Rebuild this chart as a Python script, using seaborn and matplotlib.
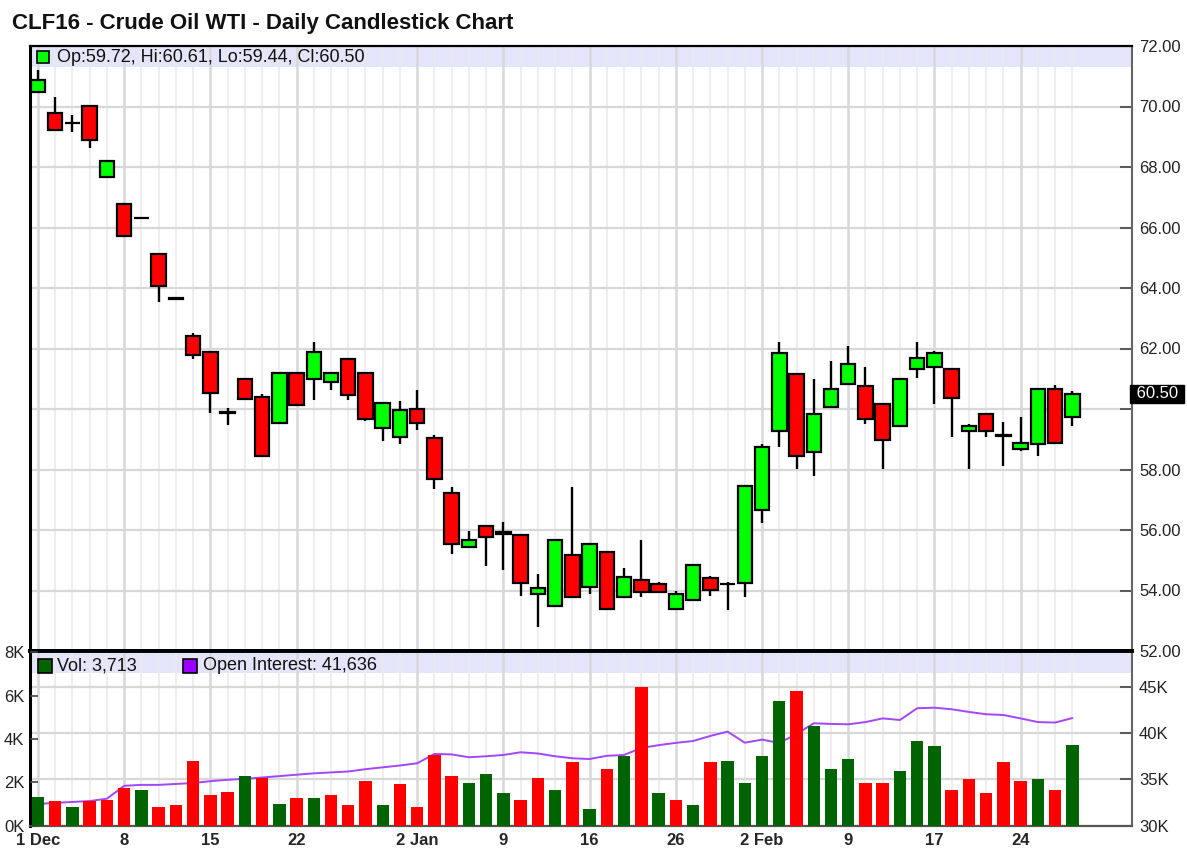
import numpy as np
import pandas as pd
import seaborn as sns
import matplotlib.pyplot as plt

# trading days (NYMEX holidays removed)
days = pd.bdate_range('2014-12-01', '2015-02-27', freq='C',
                      holidays=['2014-12-25', '2015-01-01', '2015-01-19', '2015-02-16'])
label_days = ['2014-12-01', '2014-12-08', '2014-12-15', '2014-12-22', '2015-01-02', '2015-01-09',
              '2015-01-16', '2015-01-26', '2015-02-02', '2015-02-09', '2015-02-17', '2015-02-24']
label_text = ['1 Dec', '8', '15', '22', '2 Jan', '9', '16', '26', '2 Feb', '9', '17', '24']

opens = [70.48, 69.78, 69.45, 70.00, 67.67, 66.77, 66.30, 65.13, 63.68, 62.42,
         61.90, 59.90, 60.98, 60.40, 59.53, 61.20, 60.98, 60.90, 61.65, 61.20,
         59.38, 59.09, 60.00, 59.05, 57.22, 55.45, 56.13, 55.92, 55.84, 53.90,
         53.50, 55.18, 54.13, 55.27, 53.79, 54.36, 54.20, 53.38, 53.70, 54.40,
         54.20, 54.24, 56.66, 59.28, 61.16, 58.59, 60.06, 60.81, 60.76, 60.18,
         59.44, 61.32, 61.39, 61.33, 59.28, 59.85, 59.14, 58.69, 58.83, 60.66,
         59.72]
highs = [71.20, 70.33, 69.73, 70.02, 68.20, 66.80, 66.32, 65.15, 63.70, 62.51,
         61.92, 60.02, 61.00, 60.51, 61.20, 61.20, 62.21, 61.20, 61.67, 61.20,
         60.20, 60.26, 60.64, 59.14, 57.42, 55.97, 56.15, 56.26, 55.85, 54.54,
         55.66, 57.42, 55.55, 55.27, 54.76, 55.66, 54.27, 53.97, 54.83, 54.48,
         54.27, 57.44, 58.84, 62.21, 61.16, 61.00, 61.58, 62.09, 61.40, 60.18,
         60.99, 62.21, 61.91, 61.33, 59.52, 59.85, 59.57, 59.74, 60.66, 60.78,
         60.61]
lows = [70.48, 69.20, 69.17, 68.62, 67.67, 65.70, 66.28, 63.55, 63.60, 61.65,
        59.88, 59.47, 60.30, 58.45, 59.53, 60.14, 60.30, 60.63, 60.30, 59.60,
        58.93, 58.83, 59.30, 57.37, 55.21, 55.45, 54.81, 54.68, 53.83, 52.78,
        53.50, 53.79, 53.89, 53.38, 53.79, 53.77, 53.96, 53.38, 53.70, 53.83,
        53.35, 53.77, 56.23, 58.74, 58.01, 57.77, 60.06, 60.81, 59.49, 58.03,
        59.44, 61.02, 60.16, 59.07, 58.03, 59.07, 58.10, 58.62, 58.43, 58.86,
        59.44]
closes = [70.86, 69.21, 69.45, 68.90, 68.20, 65.73, 66.30, 64.08, 63.62, 61.78,
          60.53, 59.86, 60.33, 58.45, 61.20, 60.14, 61.88, 61.20, 60.47, 59.67,
          60.19, 59.97, 59.53, 57.68, 55.55, 55.68, 55.78, 55.86, 54.24, 54.07,
          55.66, 53.79, 55.55, 53.38, 54.46, 53.96, 53.96, 53.90, 54.83, 54.02,
          54.20, 57.44, 58.76, 61.85, 58.46, 59.84, 60.66, 61.50, 59.67, 58.99,
          60.99, 61.67, 61.85, 60.35, 59.44, 59.28, 59.10, 58.87, 60.66, 58.86,
          60.50]

# volume in thousands, up/down vs previous close
volume = [1.33, 1.15, 0.84, 1.12, 1.17, 1.72, 1.63, 0.84, 0.93, 3.00,
          1.40, 1.57, 2.29, 2.20, 1.01, 1.26, 1.26, 1.40, 0.93, 2.05,
          0.93, 1.91, 0.84, 3.25, 2.29, 1.97, 2.38, 1.49, 1.17, 2.21,
          1.64, 2.94, 0.78, 2.63, 3.19, 6.38, 1.49, 1.17, 0.93, 2.94,
          3.00, 1.97, 3.19, 5.73, 6.21, 4.61, 2.62, 3.09, 1.95, 1.95,
          2.52, 3.90, 3.65, 1.63, 2.15, 1.49, 2.94, 2.05, 2.14, 1.63,
          3.713]
vol_dir = list('grgrrrgrrr' 'rrgrgrgrrr' 'grrrrgggrr' 'grgrgrgrgr' 'ggggrgggrr' 'gggrrrrrgr' 'g')
# open interest in thousands
open_int = [32.33, 32.45, 32.55, 32.65, 32.90, 34.30, 34.40, 34.40, 34.50, 34.60,
            34.80, 34.95, 35.05, 35.20, 35.35, 35.50, 35.65, 35.75, 35.85, 36.10,
            36.30, 36.50, 36.74, 37.75, 37.70, 37.39, 37.50, 37.64, 37.93, 37.80,
            37.50, 37.28, 37.20, 37.55, 37.64, 38.40, 38.70, 38.95, 39.15, 39.70,
            40.17, 38.97, 39.30, 38.95, 39.90, 41.07, 41.00, 40.96, 41.20, 41.60,
            41.43, 42.70, 42.76, 42.59, 42.30, 42.05, 41.97, 41.60, 41.20, 41.15,
            41.636]

sns.set_style('white')
plt.rcParams['font.family'] = ['Liberation Sans', 'DejaVu Sans']

n = len(days)
idx = np.arange(n)
tick_pos = [days.get_loc(pd.Timestamp(d)) for d in label_days]
o = np.array(opens); c = np.array(closes)

W, H = 1187, 849
fig = plt.figure(figsize=(W / 100, H / 100), dpi=100)
ax = fig.add_axes([30 / W, 1 - 651 / H, 1102 / W, 605 / H])
axo = fig.add_axes([30 / W, 1 - 825.5 / H, 1102 / W, 174.5 / H])
axv = axo.twinx()

grid_minor = '#ebebeb'
grid_major = '#d8d8d8'

# ---- price panel ----
ax.axhspan(71.32, 72, color='#e4e4fb', zorder=0.5, lw=0)
ax.vlines(idx, lows, highs, color='black', lw=1.7, zorder=2)
body_col = np.where(c >= o, '#00ff00', '#ff0000')
ax.bar(idx, np.abs(c - o), bottom=np.minimum(o, c), width=0.84, color=body_col,
       edgecolor='black', linewidth=1.6, zorder=3)

ax.set_xlim(-0.46, 63.46)
ax.set_ylim(52, 72)
ax.yaxis.tick_right()
pticks = np.arange(52, 73, 2)
ax.set_yticks(pticks)
ax.set_yticklabels(['' if v == 60 else f'{v:.2f}' for v in pticks])
ax.set_xticks(tick_pos)
ax.set_xticks(idx, minor=True)
ax.tick_params(axis='x', which='both', length=0, labelbottom=False)
ax.tick_params(axis='y', direction='in', length=9, width=1.2, color='#444',
               labelsize=12, labelcolor='#222', pad=5)
ax.grid(which='minor', axis='x', color=grid_minor, lw=1.2, zorder=0)
ax.grid(which='major', axis='x', color=grid_major, lw=1.8, zorder=0)
ax.grid(which='major', axis='y', color=grid_major, lw=1.6, zorder=0)
ax.set_axisbelow(True)
for s, (col, lw) in {'left': ('black', 2.2), 'top': ('black', 1.6),
                     'bottom': ('black', 2.8), 'right': ('#666666', 1.5)}.items():
    ax.spines[s].set_color(col)
    ax.spines[s].set_linewidth(lw)
    ax.spines[s].set_visible(True)

ax.text(1.0, closes[-1], f' {closes[-1]:.2f} ', transform=ax.get_yaxis_transform(),
        color='white', fontsize=12, va='center', ha='left',
        bbox=dict(facecolor='black', edgecolor='black', pad=1.2))

hy = (651 - 57) / 605
ax.plot([(43 - 30) / 1102], [hy], marker='s', ms=8.5, mfc='#00ff00', mec='black', mew=1.2,
        transform=ax.transAxes, clip_on=False, zorder=5)
ax.text((57 - 30) / 1102, hy,
        f'Op:{opens[-1]:.2f}, Hi:{highs[-1]:.2f}, Lo:{lows[-1]:.2f}, Cl:{closes[-1]:.2f}',
        transform=ax.transAxes, va='center', ha='left', fontsize=13, color='#111')

fig.text(12 / W, 1 - 23 / H, 'CLF16 - Crude Oil WTI - Daily Candlestick Chart',
         fontsize=16, fontweight='bold', va='center', ha='left', color='#111')

# ---- volume / open interest panel ----
axo.set_ylim(30, 48.9)
axv.set_ylim(0, 8.06)
axo.axhspan(46.5, 48.9, color='#e4e4fb', zorder=0.5, lw=0)
sns.lineplot(x=idx, y=open_int, ax=axo, color='#a445ff', lw=1.4, zorder=2)
sns.barplot(x=idx, y=volume, hue=vol_dir, palette={'g': '#006400', 'r': '#ff0000'},
            native_scale=True, dodge=False, width=0.72, saturation=1, errorbar=None,
            legend=False, linewidth=0, ax=axv)

axo.yaxis.tick_right()
axo.set_yticks([30, 35, 40, 45])
axo.set_yticklabels(['30K', '35K', '40K', '45K'])
axo.tick_params(axis='y', direction='in', length=9, width=1.2, color='#444',
                labelsize=12, labelcolor='#222', pad=5)
axo.grid(which='major', axis='y', color=grid_major, lw=1.6, zorder=0)
axo.set_axisbelow(True)

axv.yaxis.tick_left()
axv.set_yticks([0, 2, 4, 6, 8])
axv.set_yticklabels(['0K', '2K', '4K', '6K', '8K'])
axv.tick_params(axis='y', direction='in', length=6, width=1.2, color='#444',
                labelsize=12, labelcolor='#222', pad=4)
for s in axv.spines.values():
    s.set_visible(False)

axo.set_xlim(-0.46, 63.46)
axo.set_xticks(tick_pos)
axo.set_xticklabels(label_text)
axo.set_xticks(idx, minor=True)
axo.tick_params(axis='x', which='minor', length=0)
axo.tick_params(axis='x', which='major', direction='out', length=3, color='#444',
                labelsize=12, pad=2.5)
for lab in axo.get_xticklabels():
    lab.set_fontweight('bold')
axo.grid(which='minor', axis='x', color=grid_minor, lw=1.2, zorder=0)
axo.grid(which='major', axis='x', color=grid_major, lw=1.8, zorder=0)
for s, (col, lw) in {'left': ('black', 2.2), 'top': ('black', 2.8),
                     'bottom': ('#555555', 1.6), 'right': ('#666666', 1.5)}.items():
    axo.spines[s].set_color(col)
    axo.spines[s].set_linewidth(lw)
    axo.spines[s].set_visible(True)
for a in (ax, axo, axv):
    a.set_xlabel('')
    a.set_ylabel('')

ly = (825.5 - 666) / 174.5
axo.plot([(44.5 - 30) / 1102], [ly], marker='s', ms=9.5, mfc='#006400', mec='black', mew=1.2,
         transform=axo.transAxes, clip_on=False, zorder=5)
axo.text((57 - 30) / 1102, ly, f'Vol: {volume[-1] * 1000:,.0f}', transform=axo.transAxes,
         va='center', ha='left', fontsize=13, color='#111')
axo.plot([(189.5 - 30) / 1102], [ly], marker='s', ms=9.5, mfc='#9900ff', mec='black', mew=1.2,
         transform=axo.transAxes, clip_on=False, zorder=5)
axo.text((203 - 30) / 1102, ly, f'Open Interest: {open_int[-1] * 1000:,.0f}',
         transform=axo.transAxes, va='center', ha='left', fontsize=13, color='#111')

fig.savefig('out.png', dpi=100)
